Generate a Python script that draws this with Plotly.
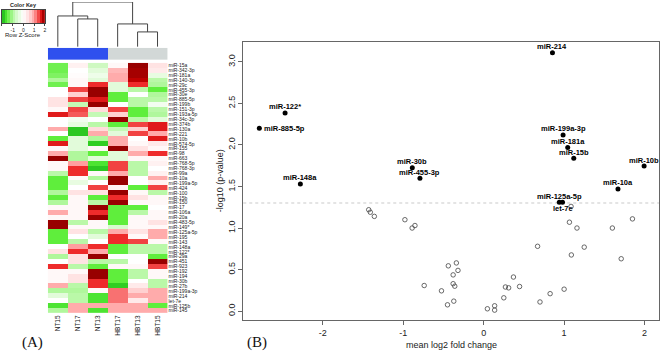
import numpy as np
import plotly.graph_objects as go

W, H = 662, 352

# ---------------- Heatmap data ----------------
samples = ["NT15", "NT17", "NT13", "HBT17", "HBT13", "HBT15"]
groups = [0, 0, 0, 1, 1, 1]
mirnas = ["miR-15a", "miR-342-3p", "miR-181a", "miR-140-3p", "miR-29c", "miR-455-3p", "miR-30e",
          "miR-885-5p", "miR-199b", "miR-151-3p", "miR-193a-5p", "miR-34c-3p", "miR-374b", "miR-130a",
          "miR-221", "miR-10b", "miR-574-5p", "miR-155", "miR-98", "miR-663", "miR-768-5p", "miR-768-3p",
          "miR-99a", "miR-10a", "miR-199a-5p", "miR-424", "miR-100", "miR-15b", "miR-150", "miR-17",
          "miR-106a", "miR-20a", "miR-483-5p", "miR-149*", "miR-125a-5p", "miR-195", "miR-143",
          "miR-148a", "miR-122*", "miR-29a", "miR-451", "miR-923", "miR-192", "miR-194", "miR-30b",
          "miR-27b", "miR-199a-3p", "miR-214", "let-7e", "miR-125b", "miR-145"]
zscores = [
    [-1.4, 0.2, -0.7, 0.1, 1.95, 0.4],
    [-1.4, 0.0, -0.5, 0.8, 1.9, 0.3],
    [-1.3, 0.05, -0.3, 0.9, 1.9, -0.4],
    [-1.0, 0.1, -0.5, 0.9, 1.8, -0.9],
    [-1.4, 0.1, 1.5, -0.5, 1.5, -1.0],
    [0.0, 1.4, 1.95, -0.5, -0.9, -1.5],
    [0.0, 0.6, 1.95, -1.5, 0.0, -1.0],
    [0.4, 1.4, 1.6, -1.5, -0.9, -0.9],
    [0.4, -0.8, 1.95, 0.0, -0.9, -0.2],
    [0.1, 1.4, 0.5, 1.4, -1.5, -0.9],
    [1.6, 1.3, -0.8, 0.6, -1.5, -1.0],
    [0.0, -0.2, 0.0, 1.95, -0.9, -0.5],
    [0.0, -0.4, -0.9, -1.5, 1.4, 1.6],
    [0.9, -1.85, 0.5, -0.8, 0.6, 1.6],
    [0.0, -1.85, 0.9, -0.5, 1.4, 0.9],
    [-1.5, -0.5, -1.0, 0.9, 0.0, 1.6],
    [1.6, -0.5, -1.8, 0.9, 0.1, 0.3],
    [0.1, -0.5, 0.1, 1.95, 0.4, 0.1],
    [0.9, -1.0, -1.5, -0.5, 0.9, 1.5],
    [1.95, -1.0, -0.5, -0.5, 0.1, 0.1],
    [0.1, 1.0, -1.6, 1.4, -0.9, 0.2],
    [0.1, 1.5, -1.85, 1.4, -0.9, 0.0],
    [-0.9, 1.5, 0.1, 0.9, -0.9, 0.2],
    [-1.5, 0.1, -1.0, 1.95, 0.0, 0.9],
    [-1.5, -0.4, 0.0, 1.95, 0.0, 0.2],
    [-1.5, 0.0, 1.4, 0.2, -1.5, 1.4],
    [-1.0, 0.4, 0.4, 1.95, 0.1, -0.9],
    [-1.5, 0.1, -1.5, 1.5, 0.4, 0.1],
    [-1.0, 0.1, -0.9, 1.95, 0.1, 0.1],
    [0.1, 0.1, 1.95, -1.5, -1.5, 0.0],
    [0.9, 0.1, 1.5, -1.5, -0.9, 0.1],
    [0.1, 0.1, 1.95, -1.5, 0.1, 0.1],
    [1.95, -0.9, 0.1, -1.5, 0.1, 0.4],
    [1.95, 0.1, 0.1, -0.6, 0.1, 0.1],
    [-1.5, 0.4, -0.9, 0.9, 0.4, 0.9],
    [-1.5, 0.0, -0.5, 1.5, 0.1, 0.9],
    [-1.5, -0.9, 0.0, 1.5, 1.4, 0.1],
    [0.0, 1.0, 1.5, -1.5, -0.9, -0.9],
    [0.4, 1.5, 0.9, -1.5, -0.9, -0.9],
    [-1.0, 0.4, 1.95, 0.0, 0.0, -1.5],
    [0.0, 0.4, -0.9, -0.9, 0.0, 1.95],
    [1.5, -0.9, -1.5, 0.1, 0.1, 1.4],
    [0.1, 0.1, 1.95, -1.5, -0.9, 0.1],
    [0.1, 0.4, 1.95, -1.5, -0.9, 0.1],
    [0.1, 0.4, 1.5, -1.5, 0.0, -0.9],
    [0.9, -0.9, 1.5, -1.8, 0.3, -0.9],
    [-1.0, -1.0, 0.1, 1.2, 0.6, 0.9],
    [-0.5, -0.9, -1.6, 1.2, 0.9, 0.9],
    [0.0, -0.9, -1.6, 1.2, 0.3, 0.9],
    [-1.6, 0.9, 0.9, 0.9, 0.9, -1.5],
    [-1.0, 0.9, -1.6, 0.9, 0.9, 0.9],
]

# dendrogram merge heights (leaf order = samples order)
merge_nt17_nt13 = 28
merge_nt15 = 31
merge_hbt13_hbt15 = 15
merge_hbt17 = 23
merge_root = 45

# colour key bin edges
key_edges = [-2, -1.75, -1.5, -1.25, -1, -0.75, -0.5, -0.25, 0, 0.25, 0.5, 0.75, 1, 1.25, 1.5, 1.75, 2]
key_ticks = [-2, -1, 0, 1, 2]

# ---------------- Volcano data ----------------
sig_names = ["miR-214", "miR-122*", "miR-885-5p", "miR-199a-3p", "miR-181a", "miR-15b", "miR-10b",
             "miR-30b", "miR-455-3p", "miR-148a", "miR-10a", "miR-125a-5p", "let-7e"]
sig_fc = [0.855, -2.47, -2.79, 0.987, 1.045, 1.12, 1.995, -0.888, -0.793, -2.28, 1.67, 0.94, 0.98]
sig_p = [3.11, 2.385, 2.20, 2.12, 1.97, 1.84, 1.745, 1.725, 1.60, 1.53, 1.47, 1.31, 1.31]
sig_label_pos = ["above", "above", "right", "above", "above", "above", "above",
                 "above", "above", "above", "above", "above", "below"]
ns_fc = [-1.43, -1.41, -1.36, -0.98, -0.89, -0.855,
         -0.34, -0.44, -0.32, -0.38, -0.38, -0.36, -0.74, -0.525, -0.372, -0.45,
         0.046, 0.136, 0.136, 0.25, 0.27, 0.31, 0.37, 0.446, 0.67, 0.70, 0.826, 1.0,
         1.066, 1.086, 1.16, 1.09, 1.25, 1.60, 1.71, 1.85]
ns_p = [1.22, 1.19, 1.14, 1.10, 1.00, 1.03,
        0.58, 0.545, 0.49, 0.436, 0.33, 0.30, 0.308, 0.244, 0.12, 0.076,
        0.028, 0.064, 0.012, 0.16, 0.29, 0.28, 0.41, 0.296, 0.78, 0.11, 0.21, 0.264,
        1.07, 1.26, 1.0, 0.676, 0.77, 1.0, 0.63, 1.11]
p_threshold = 1.301
x_ticks = [-2, -1, 0, 1, 2]
x_ticktext = ["-2", "-1", "0", "1", "2"]
y_ticks = [0, 0.5, 1, 1.5, 2, 2.5, 3]
y_ticktext = ["0.0", "0.5", "1.0", "1.5", "2.0", "2.5", "3.0"]

# ---------------- helpers ----------------
def px_x(p):
    return p / W

def px_y(p):
    return 1 - p / H

SANS = "Liberation Sans, Arial, sans-serif"
SERIF = "Liberation Serif, Times New Roman, serif"

cscale = [
    [0.0, "#22b022"], [0.0625, "#33d622"], [0.125, "#5fee3c"], [0.25, "#b0f79c"],
    [0.375, "#e2fbda"], [0.5, "#ffffff"], [0.625, "#ffdcdc"], [0.75, "#ff9f9f"],
    [0.875, "#ee2b2b"], [0.9375, "#cc0000"], [1.0, "#8b0000"],
]

fig = go.Figure()

# main heatmap
fig.add_trace(go.Heatmap(
    z=zscores, x=list(range(len(samples))), y=list(range(len(mirnas))),
    colorscale=cscale, zmin=-2, zmax=2, showscale=False,
    xaxis="x", yaxis="y", hoverinfo="skip"))

# group colour bar
fig.add_trace(go.Heatmap(
    z=[groups], x=list(range(len(samples))), y=[0],
    colorscale=[[0, "#2f50ee"], [1, "#d2d8d7"]], zmin=0, zmax=1, showscale=False,
    xaxis="x4", yaxis="y4", hoverinfo="skip"))

# dendrogram
leaf_h = 0
def link(xa, ha, xb, hb, h):
    return [xa, xa, xb, xb, None], [ha, h, h, hb, None]

dx, dy = [], []
m1x = (1 + 2) / 2
a, b = link(1, leaf_h, 2, leaf_h, merge_nt17_nt13); dx += a; dy += b
m2x = (0 + m1x) / 2
a, b = link(0, leaf_h, m1x, merge_nt17_nt13, merge_nt15); dx += a; dy += b
m3x = (4 + 5) / 2
a, b = link(4, leaf_h, 5, leaf_h, merge_hbt13_hbt15); dx += a; dy += b
m4x = (3 + m3x) / 2
a, b = link(3, leaf_h, m3x, merge_hbt13_hbt15, merge_hbt17); dx += a; dy += b
a, b = link(m2x, merge_nt15, m4x, merge_hbt17, merge_root); dx += a; dy += b
fig.add_trace(go.Scatter(x=dx, y=dy, mode="lines", line=dict(color="#444444", width=1),
                         xaxis="x3", yaxis="y3", hoverinfo="skip", showlegend=False))

# colour key
key_edges_arr = np.array(key_edges)
key_centers = (key_edges_arr[:-1] + key_edges_arr[1:]) / 2
fig.add_trace(go.Heatmap(
    z=[list(key_centers)], x=key_edges, y=[0, 1],
    colorscale=cscale, zmin=-2, zmax=2, showscale=False,
    xaxis="x5", yaxis="y5", hoverinfo="skip"))

# volcano: non-significant
fig.add_trace(go.Scatter(
    x=ns_fc, y=ns_p, mode="markers",
    marker=dict(symbol="circle-open", size=4.5, color="#444444", line=dict(width=0.8, color="#444444")),
    xaxis="x2", yaxis="y2", hoverinfo="skip", showlegend=False))
# volcano: significant
fig.add_trace(go.Scatter(
    x=sig_fc, y=sig_p, mode="markers",
    marker=dict(symbol="circle", size=5, color="#000000"),
    xaxis="x2", yaxis="y2", hoverinfo="skip", showlegend=False))

annotations = []
for name, xv, yv, pos in zip(sig_names, sig_fc, sig_p, sig_label_pos):
    ann = dict(x=xv, y=yv, xref="x2", yref="y2", text="<b>" + name + "</b>", showarrow=False,
               font=dict(family=SANS, size=7.5, color="#000000"))
    if pos == "above":
        ann.update(xanchor="center", yanchor="middle", yshift=6)
    elif pos == "below":
        ann.update(xanchor="center", yanchor="middle", yshift=-6)
    else:
        ann.update(xanchor="left", yanchor="middle", xshift=3)
    annotations.append(ann)

annotations += [
    dict(x=px_x(23.5), y=px_y(4), xref="paper", yref="paper", text="<b>Color Key</b>", showarrow=False,
         font=dict(family=SANS, size=5.5, color="#222"), xanchor="center", yanchor="middle"),
    dict(x=px_x(23.5), y=px_y(34.5), xref="paper", yref="paper", text="Row Z-Score", showarrow=False,
         font=dict(family=SANS, size=6, color="#222"), xanchor="center", yanchor="middle"),
    dict(x=px_x(452.5), y=px_y(345), xref="paper", yref="paper", text="mean log2 fold change",
         showarrow=False, font=dict(family=SANS, size=9, color="#222"), xanchor="center", yanchor="middle"),
    dict(x=px_x(221), y=px_y(180.5), xref="paper", yref="paper", text="-log10 (p-value)", textangle=-90,
         showarrow=False, font=dict(family=SANS, size=9, color="#222"), xanchor="center", yanchor="middle"),
    dict(x=px_x(33), y=px_y(342), xref="paper", yref="paper", text="(A)", showarrow=False,
         font=dict(family=SERIF, size=15, color="#111"), xanchor="center", yanchor="middle"),
    dict(x=px_x(258), y=px_y(342), xref="paper", yref="paper", text="(B)", showarrow=False,
         font=dict(family=SERIF, size=15, color="#111"), xanchor="center", yanchor="middle"),
]

hm_xrange = [-0.5, len(samples) - 0.5]

fig.update_layout(
    width=W, height=H, autosize=False,
    margin=dict(l=0, r=0, t=0, b=0),
    paper_bgcolor="white", plot_bgcolor="white",
    showlegend=False,
    font=dict(family=SANS, color="#222"),
    annotations=annotations,
    shapes=[dict(type="line", xref="x2 domain", x0=0, x1=1, yref="y2", y0=p_threshold, y1=p_threshold,
                 line=dict(color="#bbbbbb", width=0.8, dash="dot"), layer="below")],
    # main heatmap axes
    xaxis=dict(domain=[px_x(48), px_x(168)], range=hm_xrange, anchor="y",
               tickmode="array", tickvals=list(range(len(samples))), ticktext=samples,
               tickangle=-90, tickfont=dict(family=SANS, size=6.5, color="#222"),
               showgrid=False, zeroline=False, showline=False, ticks=""),
    yaxis=dict(domain=[px_y(313), px_y(62)], range=[len(mirnas) - 0.5, -0.5], anchor="x",
               side="right", tickmode="array", tickvals=list(range(len(mirnas))), ticktext=mirnas,
               tickfont=dict(family=SANS, size=5, color="#222"),
               showgrid=False, zeroline=False, showline=False, ticks=""),
    # volcano axes
    xaxis2=dict(domain=[px_x(244), px_x(661)], range=[-2.99, 2.18], anchor="y2",
                tickmode="array", tickvals=x_ticks, ticktext=x_ticktext,
                tickfont=dict(family=SANS, size=9, color="#222"),
                showline=True, mirror=True, linecolor="#666666", linewidth=1,
                ticks="outside", ticklen=4, tickcolor="#666666", tickwidth=1,
                showgrid=False, zeroline=False),
    yaxis2=dict(domain=[px_y(320), px_y(41)], range=[-0.108, 3.24], anchor="x2",
                tickmode="array", tickvals=y_ticks, ticktext=y_ticktext, tickangle=-90,
                tickfont=dict(family=SANS, size=9, color="#222"),
                showline=True, mirror=True, linecolor="#666666", linewidth=1,
                ticks="outside", ticklen=4, tickcolor="#666666", tickwidth=1,
                showgrid=False, zeroline=False),
    # dendrogram axes
    xaxis3=dict(domain=[px_x(48), px_x(168)], range=hm_xrange, anchor="y3", visible=False),
    yaxis3=dict(domain=[px_y(46), px_y(1)], range=[0, merge_root], anchor="x3", visible=False),
    # group bar axes
    xaxis4=dict(domain=[px_x(48), px_x(168)], range=hm_xrange, anchor="y4", visible=False),
    yaxis4=dict(domain=[px_y(59), px_y(47)], range=[-0.5, 0.5], anchor="x4", visible=False),
    # colour key axes
    xaxis5=dict(domain=[px_x(2), px_x(45)], range=[-2, 2], anchor="y5",
                tickmode="array", tickvals=key_ticks, ticktext=["-2", "-1", "0", "1", "2"],
                tickfont=dict(family=SANS, size=5, color="#222"), ticks="outside", ticklen=2,
                tickcolor="#444", showline=True, mirror=True, linecolor="#444", linewidth=0.6,
                showgrid=False, zeroline=False),
    yaxis5=dict(domain=[px_y(22), px_y(9)], range=[0, 1], anchor="x5", showticklabels=False,
                showline=True, mirror=True, linecolor="#444", linewidth=0.6,
                showgrid=False, zeroline=False, ticks=""),
)

fig.write_html("out.html", config={"displayModeBar": False},
               post_script="document.body.style.margin='0';document.body.style.overflow='hidden';")
